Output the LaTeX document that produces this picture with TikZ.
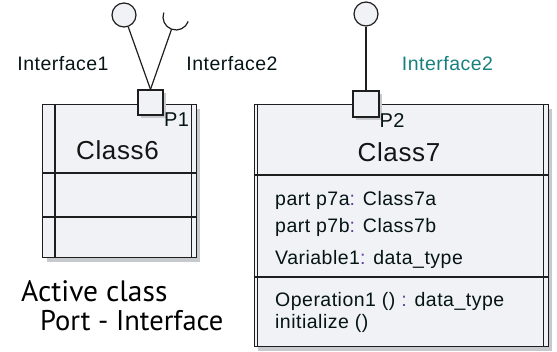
\documentclass[tikz,border=0pt]{standalone}
\usepackage{fontspec}
\setmainfont{Liberation Sans}
\newfontfamily\umlfont[LetterSpace=2.5]{Liberation Sans}
\newfontfamily\notefont{PT Sans}
\usetikzlibrary{shadows}
\definecolor{boxfill}{HTML}{F0F2F6}
\definecolor{boxline}{HTML}{1E1E1E}
\definecolor{shade}{HTML}{C6C9CE}
\definecolor{txtdark}{HTML}{061416}
\definecolor{sepcol}{HTML}{5B3FA0}
\definecolor{ifteal}{HTML}{17807E}
\tikzset{
    umlbox/.style = {rectangle, draw=boxline, line width=1.2pt, fill=boxfill, inner sep=0pt, anchor=north west,
        drop shadow={shadow xshift=4pt, shadow yshift=-4pt, fill=shade, opacity=1}},
    umlline/.style = {draw=boxline, line width=1.2pt},
    port/.style = {rectangle, draw=boxline, line width=1.2pt, fill=boxfill, minimum size=25pt, inner sep=0pt,
        drop shadow={shadow xshift=3pt, shadow yshift=-3pt, fill=shade, opacity=1}},
    lolly/.style = {circle, draw=boxline, line width=1.2pt, fill=boxfill, minimum size=24pt, inner sep=0pt},
    iflabel/.style = {font=\umlfont\fontsize{19.5}{21}\selectfont, text=txtdark},
    cname/.style = {font=\umlfont\fontsize{26}{28}\selectfont, text=black!92},
    plabel/.style = {font=\umlfont\fontsize{20}{22}\selectfont, text=txtdark},
    member/.style = {anchor=base west, inner sep=0pt, font=\umlfont\fontsize{19.5}{21}\selectfont, text=txtdark},
    note/.style = {anchor=base west, inner sep=0pt, font=\notefont\fontsize{29.5}{31}\selectfont, text=black}
}
\newcommand{\Sep}[1]{\textcolor{sepcol}{#1}}

\begin{document}
\begin{tikzpicture}[x=1pt,y=1pt]
\useasboundingbox (0,0) rectangle (557,352);
% active class Class6
\node[umlbox, minimum width=153.5pt, minimum height=153pt] (c6) at (42,248) {};
\draw[umlline] (55,248) -- (55,95);
\draw[umlline] (191.5,248) -- (191.5,95);
\draw[umlline] (42,179) -- (195.5,179);
\draw[umlline] (42,135) -- (195.5,135);
\node[cname] at (117.5,201.5) {Class6};
% active class Class7
\node[umlbox, minimum width=294pt, minimum height=242pt] (c7) at (253.5,248) {};
\draw[umlline] (257.5,248) -- (257.5,6);
\draw[umlline] (543.5,248) -- (543.5,6);
\draw[umlline] (253.5,177) -- (547.5,177);
\draw[umlline] (253.5,75) -- (547.5,75);
\node[cname] at (399,200) {Class7};
\node[member] at (275,146.5) {part p7a\Sep{:} Class7a};
\node[member] at (275,119) {part p7b\Sep{:} Class7b};
\node[member] at (275,87) {Variable1\Sep{:} data\_type};
\node[member] at (275,45.5) {Operation1 () \Sep{:} data\_type};
\node[member] at (275,23) {initialize ()};
%
\node[port] (p1) at (150.5,249.5) {};
\node[port, minimum size=26pt] (p2) at (366,248) {};
\node[plabel] at (176.5,232) {P1};
\node[plabel] at (392,231) {P2};
\node[lolly] (i1) at (124,337) {};
\node[lolly] (i3) at (366,338) {};
\coordinate (s2) at (176,335); % socket centre
%
\draw[umlline] (p1.north) -- (i1);
\draw[umlline] (p1.north) -- ([shift={(250:13)}]s2);
\draw[umlline] ([shift={(160:13)}]s2) arc[start angle=160, end angle=340, radius=13];
\draw[umlline] (p2.north) -- (i3);
\node[iflabel] at (63,288) {Interface1};
\node[iflabel] at (232,288) {Interface2};
\node[iflabel, text=ifteal] at (447.5,288) {Interface2};
%
\node[note] at (21,50) {Active class};
\node[note, font=\notefont\fontsize{28.5}{30}\selectfont] at (40,21) {Port - Interface};
\end{tikzpicture}
\end{document}
